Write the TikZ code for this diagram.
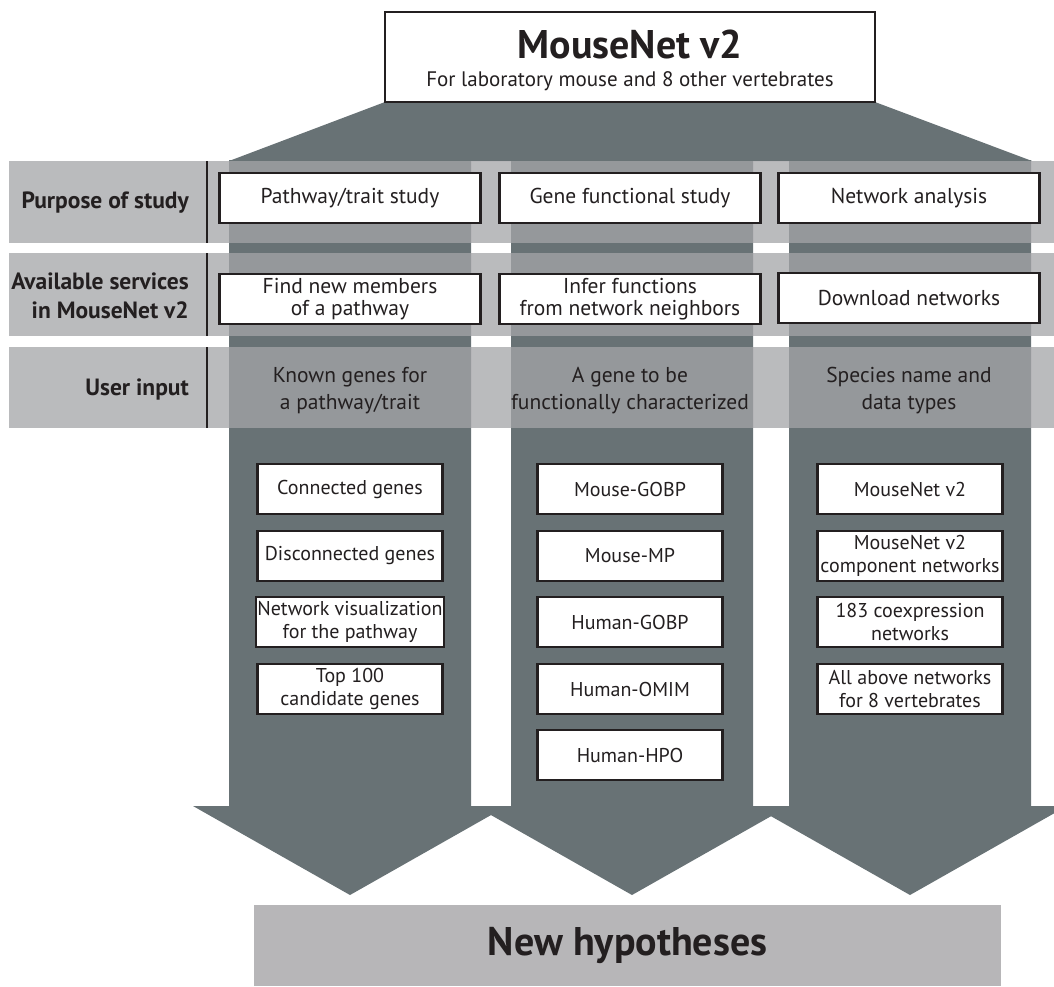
\documentclass[tikz,border=0pt]{standalone}
\usepackage{fontspec}
\setmainfont{PT Sans}
\usetikzlibrary{positioning}
\definecolor{ardoise}{RGB}{104,114,117}
\definecolor{bande}{RGB}{164,165,168}
\definecolor{fondbas}{RGB}{183,182,184}
\definecolor{encre}{RGB}{35,31,32}

\begin{document}
\begin{tikzpicture}[x=1pt,y=-1pt,
    boite/.style={draw=encre, line width=2.2pt, fill=white, text=encre, align=center, inner sep=1pt,
      minimum width=185pt, minimum height=50pt, font=\fontsize{20}{23}\selectfont},
    service/.style={boite, minimum width=261pt, font=\fontsize{21.5}{23}\selectfont},
    etiquette/.style={anchor=east, align=right, text=encre, inner sep=0pt, font=\bfseries\fontsize{23.5}{29}\selectfont},
    entree/.style={align=center, text=encre, font=\fontsize{21.5}{27}\selectfont},
    bandeau/.style={fill=bande, fill opacity=0.76}]
  \useasboundingbox (0,0) rectangle (1054,986);
  % Entonnoir et fleches
  \fill[ardoise] (385,102) -- (875,102) -- (1032,161) -- (229,161) -- cycle;
  \foreach \c in {350,632,910}
    \fill[ardoise] (\c-121,160) -- (\c+121,160) -- (\c+121,806) -- (\c+157,806)
      -- (\c,895) -- (\c-157,806) -- (\c-121,806) -- cycle;
  % Bandeaux
  \foreach \h/\b in {161/243, 253/336, 347/428} {
    \fill[bandeau] (9,\h) rectangle (1054,\b);
    \draw[encre, line width=1.8pt] (207,\h) -- (207,\b);
  }
  % Etiquettes
  \node[etiquette] at (189,203) (but) {Purpose of study};
  \node[etiquette] at (189,296) (services) {Available services\\in MouseNet v2};
  \node[etiquette] at (189,389) (entree) {User input};
  % Objectifs
  \node[service] at (350,198) (voie) {Pathway/trait study};
  \node[service] at (630,198) (fonction) {Gene functional study};
  \node[service] at (909,198) (reseau) {Network analysis};
  % Services
  \node[service, font=\fontsize{21.5}{22}\selectfont] at (350,299) (membres) {Find new members\\of a pathway};
  \node[service, font=\fontsize{21.5}{22}\selectfont] at (630,299) (voisins) {Infer functions\\from network neighbors};
  \node[service] at (909,298) (telecharger) {Download networks};
  % Entrees
  \node[entree] at (350,391) (genes) {Known genes for\\a pathway/trait};
  \node[entree] at (630,391) (gene) {A gene to be\\functionally characterized};
  \node[entree] at (909,391) (especes) {Species name and\\data types};
  % Resultats
  \node[boite] at (350,489) (connectes) {Connected genes};
  \node[boite] at (350,556) (deconnectes) {Disconnected genes};
  \node[boite] at (350,622) (visu) {Network visualization\\for the pathway};
  \node[boite] at (350,689) (top) {Top 100\\candidate genes};
  \node[boite] at (630,489) (mgobp) {Mouse-GOBP};
  \node[boite] at (630,556) (mmp) {Mouse-MP};
  \node[boite] at (630,622) (hgobp) {Human-GOBP};
  \node[boite] at (630,689) (homim) {Human-OMIM};
  \node[boite] at (630,755) (hhpo) {Human-HPO};
  \node[boite] at (910,489) (mnet) {MouseNet v2};
  \node[boite] at (910,556) (composants) {MouseNet v2\\component networks};
  \node[boite] at (910,622) (coexp) {183 coexpression\\networks};
  \node[boite] at (910,689) (vertebres) {All above networks\\for 8 vertebrates};
  % Hypotheses
  \node[fill=fondbas, minimum width=747pt, minimum height=81pt, text=encre,
    font=\bfseries\fontsize{40}{46}\selectfont] at (627.5,945.5) (hypo) {New hypotheses};
  % Titre
  \node[draw=encre, line width=2pt, fill=white, minimum width=490pt, minimum height=90pt] at (630,57) (cadre) {};
  \node[text=encre, font=\bfseries\fontsize{40}{46}\selectfont] at (630,44) (titre) {MouseNet v2};
  \node[text=encre, font=\fontsize{21}{25}\selectfont] at (630,81) (soustitre) {For laboratory mouse and 8 other vertebrates};
\end{tikzpicture}
\end{document}
